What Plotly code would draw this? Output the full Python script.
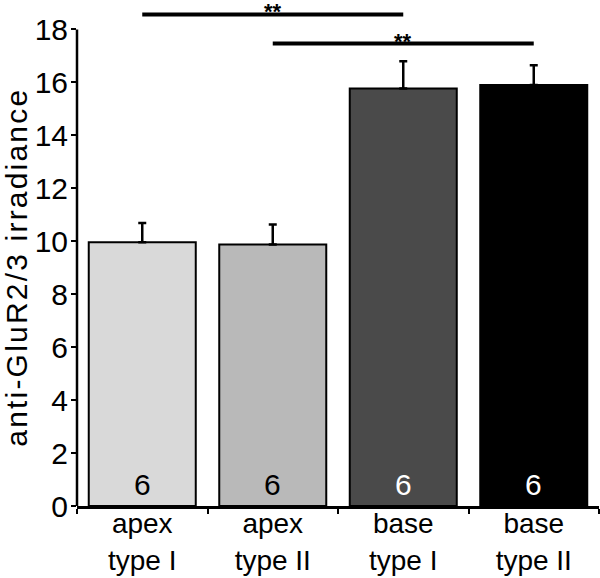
import plotly.graph_objects as go

categories = ["apex<br>type I", "apex<br>type II", "base<br>type I", "base<br>type II"]
means = [9.96, 9.88, 15.77, 15.90]
errors = [0.73, 0.75, 1.03, 0.75]
n_counts = [6, 6, 6, 6]
bar_colors = ["#d9d9d9", "#b9b9b9", "#4a4a4a", "#000000"]
n_text_colors = ["#000000", "#000000", "#ffffff", "#ffffff"]
y_ticks = [0, 2, 4, 6, 8, 10, 12, 14, 16, 18]
y_title = "anti-GluR2/3 irradiance"

# significance brackets: (from category index, to category index, height, label)
sig_from = [0, 1]
sig_to = [2, 3]
sig_height = [18.57, 17.47]
sig_label = ["**", "**"]

FONT = "Liberation Sans, Arial, sans-serif"

fig = go.Figure()
fig.add_trace(go.Bar(
    x=categories,
    y=means,
    width=0.82,
    marker=dict(color=bar_colors, line=dict(color="#000000", width=2)),
    error_y=dict(type="data", symmetric=False, array=errors,
                 arrayminus=[0] * len(errors), color="#000000",
                 thickness=2.5, width=4),
    hoverinfo="skip",
    showlegend=False,
))

shapes = []
# y axis line from 0 to 18
shapes.append(dict(type="line", xref="paper", yref="y", x0=0, x1=0,
                   y0=y_ticks[0], y1=y_ticks[-1],
                   line=dict(color="#000000", width=2.5)))
annotations = []
for a, b, h, lab in zip(sig_from, sig_to, sig_height, sig_label):
    shapes.append(dict(type="line", xref="x", yref="y",
                       x0=categories[a], x1=categories[b], y0=h, y1=h,
                       line=dict(color="#000000", width=4)))
    annotations.append(dict(x=categories[(a + b) // 2], y=h, xref="x", yref="y",
                            text="<b>" + lab + "</b>", showarrow=False,
                            yanchor="bottom", yshift=-11, borderpad=0,
                            font=dict(size=22, color="#000000", family=FONT)))

for cat, n, col in zip(categories, n_counts, n_text_colors):
    annotations.append(dict(x=cat, y=0, xref="x", yref="y", text=str(n),
                            showarrow=False, yanchor="bottom", yshift=3,
                            font=dict(size=30, color=col, family=FONT)))

annotations.append(dict(x=0, y=(y_ticks[0] + y_ticks[-1]) / 2, xref="paper", yref="y",
                        text='<span style="letter-spacing:2.2px">' + y_title + "</span>",
                        textangle=-90, showarrow=False, borderpad=0,
                        xanchor="center", yanchor="middle", xshift=-60,
                        font=dict(size=30, color="#000000", family=FONT)))

fig.update_layout(
    width=600, height=578,
    margin=dict(l=77, r=1, t=3, b=72, autoexpand=False),
    paper_bgcolor="#ffffff", plot_bgcolor="#ffffff",
    font=dict(family=FONT, color="#000000"),
    shapes=shapes,
    annotations=annotations,
    xaxis=dict(
        showline=True, linecolor="#000000", linewidth=2.5,
        ticks="outside", tickson="boundaries", ticklen=5, tickwidth=2,
        tickcolor="#000000", tickfont=dict(size=28, family=FONT, color="#000000"),
        ticklabelstandoff=-9,
        showgrid=False, zeroline=False, range=[-0.5, 3.5],
    ),
    yaxis=dict(
        range=[0, 19], tickvals=y_ticks, showline=False,
        ticks="outside", ticklen=5, tickwidth=2, tickcolor="#000000",
        tickfont=dict(size=30, family=FONT, color="#000000"),
        ticklabelstandoff=-3,
        showgrid=False, zeroline=False,
    ),
)

fig.write_html("out.html", config={"displayModeBar": False},
               post_script="document.body.style.margin='0';document.body.style.padding='0';")
